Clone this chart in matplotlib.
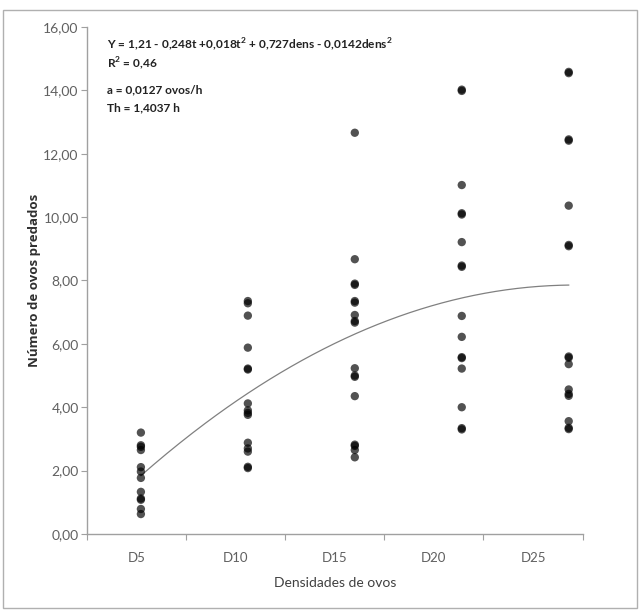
import numpy as np
import matplotlib.pyplot as plt
from matplotlib.patches import Rectangle

# Densities (eggs offered) and eggs preyed
dens = [5, 10, 15, 20, 25]
cat_labels = ['D5', 'D10', 'D15', 'D20', 'D25']

d5 = [3.20, 2.80, 2.75, 2.65, 2.11, 1.97, 1.77, 1.33, 1.12, 1.08, 0.79, 0.63]
d10 = [7.35, 7.28, 6.89, 5.88, 5.22, 5.19, 4.12, 3.90, 3.82, 3.76, 2.88, 2.70, 2.60, 2.12, 2.08]
d15 = [12.66, 8.67, 7.90, 7.86, 7.35, 7.30, 6.91, 6.72, 6.67, 5.23, 5.00, 4.96, 4.35,
       2.82, 2.78, 2.65, 2.42]
d20 = [14.02, 13.98, 11.01, 10.12, 10.08, 9.21, 8.47, 8.43, 6.88, 6.22, 5.58, 5.55,
       5.22, 4.00, 3.34, 3.30]
d25 = [14.58, 14.54, 12.45, 12.41, 10.36, 9.12, 9.08, 5.60, 5.56, 5.36, 4.56, 4.42,
       4.36, 3.56, 3.35, 3.31]
groups = [d5, d10, d15, d20, d25]

# fitted curve, read at each density
curve_y = [1.86, 4.40, 6.32, 7.47, 7.84]

yticks = [0, 2, 4, 6, 8, 10, 12, 14, 16]

plt.rcParams['font.family'] = ['Lato', 'DejaVu Sans']
plt.rcParams['mathtext.fontset'] = 'custom'
plt.rcParams['mathtext.bf'] = 'Lato:bold'
plt.rcParams['mathtext.rm'] = 'Lato'

fig = plt.figure(figsize=(6.42, 6.11), dpi=100)
ax = fig.add_axes([0.1355, 0.126, 0.772, 0.830])

for d, vals in zip(dens, groups):
    ax.scatter([d] * len(vals), vals, s=36, color='black', alpha=0.68,
               edgecolors='none', zorder=3)

coef = np.polyfit(dens, curve_y, 2)
xs = np.linspace(dens[0], dens[-1], 200)
ax.plot(xs, np.polyval(coef, xs), color='#808080', lw=0.9, zorder=2)

x0, x1 = 2.48, 25.65
ax.set_xlim(x0, x1)
ax.set_ylim(0, 16)

bounds = np.linspace(x0, x1, 6)
ax.set_xticks(bounds)
ax.set_xticklabels([''] * 6)
ax.set_xticks((bounds[:-1] + bounds[1:]) / 2, minor=True)
ax.set_xticklabels(cat_labels, minor=True)
ax.tick_params(axis='x', which='major', length=4, color='#a0a0a0', direction='out')
ax.tick_params(axis='x', which='minor', length=0, pad=13, labelsize=9.5,
               labelcolor='#606060')

ax.set_yticks(yticks)
ax.set_yticklabels([f'{v:.2f}'.replace('.', ',') for v in yticks])
ax.tick_params(axis='y', length=4, color='#a0a0a0', direction='out', pad=2,
               labelsize=10, labelcolor='#606060')

for s in ['top', 'right']:
    ax.spines[s].set_visible(False)
for s in ['left', 'bottom']:
    ax.spines[s].set_color('#a0a0a0')
    ax.spines[s].set_linewidth(1.0)

ax.set_xlabel('Densidades de ovos', fontsize=10, color='#404040', labelpad=9)
ax.set_ylabel('Número de ovos predados', fontsize=9.5, color='#303030',
              fontweight='bold', family='Open Sans', labelpad=2)

txt_kw = dict(transform=fig.transFigure, fontsize=8.6, fontweight='bold',
              color='#222222', va='center', ha='left')
fig.text(0.167, 1 - 45 / 611,
         r'Y = 1,21 - 0,248t +0,018t$^{\mathbf{2}}$ + 0,727dens - 0,0142dens$^{\mathbf{2}}$',
         **txt_kw)
fig.text(0.167, 1 - 64 / 611, r'R$^{\mathbf{2}}$ = 0,46', **txt_kw)
fig.text(0.167, 1 - 90 / 611, 'a = 0,0127 ovos/h', **txt_kw)
fig.text(0.167, 1 - 108 / 611, 'Th = 1,4037 h', **txt_kw)

fig.patches.append(Rectangle((0.004, 0.005), 0.988, 0.978, transform=fig.transFigure,
                             fill=False, edgecolor='#b0b0b0', lw=1.0))

fig.savefig('out.png', dpi=100)
